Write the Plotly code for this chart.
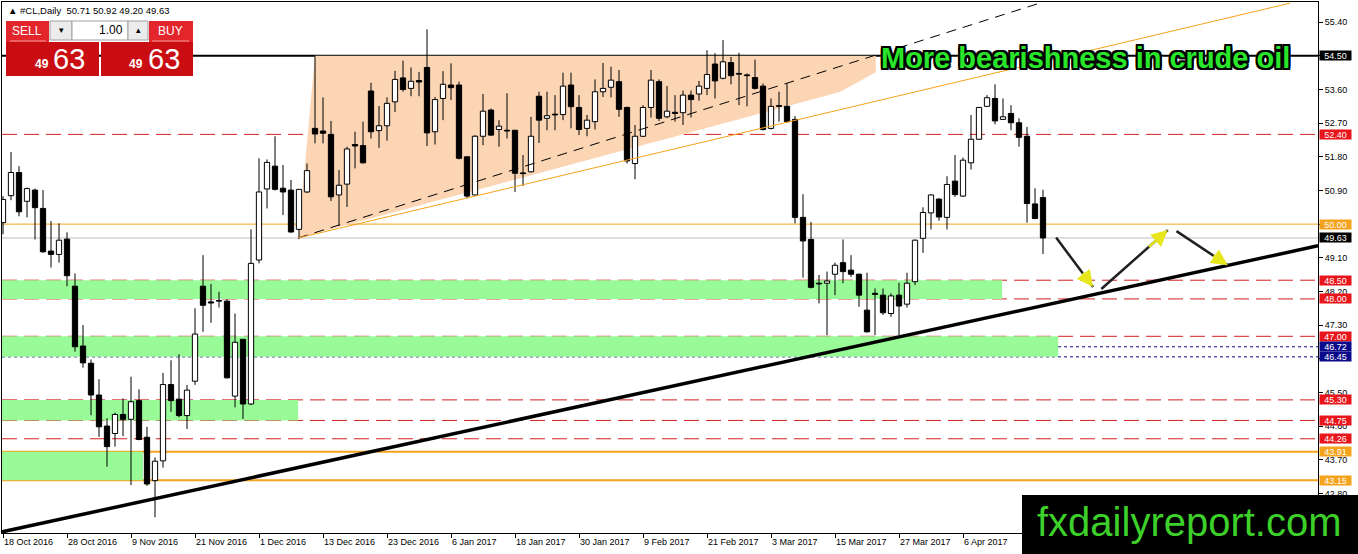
import plotly.graph_objects as go

# Chart size and plot-area margins (px)
W, H = 1358, 554
L_M, R_M, T_M, B_M = 2, 40, 2, 21
PW, PH = W - L_M - R_M, H - T_M - B_M

# ---- values (#CL daily, 18 Oct 2016 - 13 Apr 2017) ----
DATE_LABELS = [
    "18 Oct 2016", "28 Oct 2016", "9 Nov 2016", "21 Nov 2016", "1 Dec 2016",
    "13 Dec 2016", "23 Dec 2016", "6 Jan 2017", "18 Jan 2017", "30 Jan 2017",
    "9 Feb 2017", "21 Feb 2017", "3 Mar 2017", "15 Mar 2017", "27 Mar 2017",
    "6 Apr 2017",
]
BARS_PER_LABEL = 8

OPEN = [
    50.04, 50.76, 51.38, 50.61, 50.91, 50.42, 49.28, 49.19, 49.60, 48.34,
    46.74, 46.28, 45.43, 44.60, 44.40, 44.91, 44.78, 45.28, 44.30, 43.14,
    43.67, 45.71, 45.32, 44.88, 45.80, 48.34, 47.92, 47.96, 47.94, 45.40,
    46.92, 45.19, 49.04, 50.94, 51.55, 50.96, 50.91, 49.86, 50.86, 52.56,
    52.49, 52.40, 50.78, 51.07, 52.13, 52.10, 53.56, 52.50, 52.63, 53.27,
    53.91, 53.63, 53.84, 54.19, 52.47, 53.36, 53.72, 53.72, 51.80, 50.78,
    52.35, 53.05, 52.53, 52.51, 52.51, 51.37, 51.40, 53.42, 52.83, 52.94,
    52.93, 53.72, 53.12, 52.56, 52.74, 53.54, 53.66, 53.81, 53.12, 51.62,
    52.35, 53.12, 53.81, 52.87, 52.99, 52.98, 53.45, 53.48, 53.63, 54.28,
    53.90, 54.32, 54.03, 53.99, 53.92, 53.69, 52.56, 53.17, 53.15, 52.80,
    50.18, 49.59, 48.42, 48.42, 48.66, 48.97, 48.77, 48.66, 47.70, 48.15,
    48.10, 47.61, 48.10, 47.86, 48.46, 49.62, 50.30, 50.67, 50.18, 51.15,
    50.75, 51.64, 52.27, 53.15, 53.36, 52.80, 52.96, 52.71, 52.35, 50.54,
    50.71,
]
HIGH = [
    50.75, 51.93, 51.55, 50.98, 50.95, 50.91, 50.08, 50.02, 49.78, 48.68,
    47.30, 46.38, 45.85, 44.81, 44.96, 45.34, 45.92, 45.58, 44.58, 43.76,
    46.02, 46.36, 46.52, 45.70, 47.75, 49.17, 48.40, 48.19, 47.99, 47.61,
    46.92, 49.86, 51.76, 51.73, 52.35, 51.58, 51.18, 50.94, 51.62, 54.49,
    53.39, 52.76, 51.45, 52.07, 52.47, 52.74, 53.78, 53.16, 53.39, 54.10,
    54.37, 54.19, 54.07, 55.21, 53.40, 54.09, 54.30, 53.81, 51.82, 52.38,
    53.48, 53.09, 52.78, 53.50, 52.52, 51.85, 52.87, 53.54, 53.54, 53.45,
    54.05, 54.05, 53.45, 52.92, 53.87, 54.31, 54.21, 54.12, 53.14, 52.65,
    53.18, 54.12, 53.87, 53.69, 53.45, 53.57, 53.57, 53.83, 54.65, 54.57,
    54.92, 54.47, 54.58, 54.03, 54.40, 53.76, 53.36, 53.54, 53.76, 52.89,
    50.80, 50.06, 48.64, 48.73, 48.97, 49.59, 49.17, 48.68, 48.70, 48.28,
    48.28, 48.15, 48.43, 48.70, 49.59, 50.45, 50.80, 50.69, 51.28, 51.85,
    51.78, 52.92, 53.13, 53.45, 53.74, 53.36, 53.18, 52.83, 52.60, 50.96,
    50.92,
]
LOW = [
    49.73, 50.64, 50.21, 50.18, 49.59, 49.23, 48.84, 48.97, 48.34, 46.59,
    46.16, 44.89, 44.31, 43.51, 44.05, 44.33, 43.02, 44.22, 43.00, 42.16,
    43.49, 44.98, 44.83, 44.52, 45.70, 47.12, 47.36, 47.77, 45.87, 45.10,
    44.79, 45.16, 48.95, 50.42, 50.90, 50.24, 49.77, 49.60, 50.83, 52.16,
    52.16, 50.62, 49.96, 50.46, 51.49, 51.62, 52.29, 52.04, 52.23, 53.00,
    53.54, 53.42, 53.42, 52.09, 52.13, 52.78, 53.32, 51.73, 50.69, 50.76,
    52.11, 52.36, 52.07, 52.29, 50.86, 51.02, 51.38, 52.17, 52.51, 52.51,
    52.78, 52.56, 52.38, 52.35, 52.53, 53.40, 53.39, 52.87, 51.62, 51.20,
    52.33, 52.85, 52.76, 52.83, 52.74, 52.65, 52.85, 53.30, 53.45, 53.36,
    53.87, 53.74, 53.18, 53.15, 53.60, 52.50, 52.53, 52.74, 52.72, 50.02,
    48.57, 48.28, 47.88, 47.03, 48.10, 48.42, 48.59, 47.79, 47.10, 47.03,
    47.57, 47.52, 47.03, 47.77, 48.37, 49.23, 49.86, 50.09, 49.86, 50.73,
    50.73, 51.46, 52.25, 53.14, 52.67, 52.79, 52.51, 52.07, 50.04, 50.13,
    49.20,
]
CLOSE = [
    50.66, 51.38, 50.33, 50.95, 50.44, 49.26, 49.19, 49.57, 48.62, 46.72,
    46.29, 45.43, 44.58, 44.05, 44.91, 44.78, 45.25, 44.24, 43.05, 43.66,
    45.71, 45.28, 44.88, 45.56, 47.06, 47.83, 47.89, 47.94, 45.89, 46.84,
    45.19, 48.95, 50.86, 51.65, 50.93, 50.86, 49.79, 50.93, 51.43, 52.41,
    52.43, 50.73, 51.04, 52.01, 52.09, 51.64, 52.47, 52.63, 53.23, 53.87,
    53.60, 53.82, 53.80, 52.44, 53.33, 53.74, 53.65, 51.76, 50.75, 52.35,
    53.02, 52.38, 52.62, 52.49, 51.36, 51.35, 52.35, 52.78, 52.90, 52.92,
    53.69, 53.14, 52.53, 52.78, 53.54, 53.63, 53.85, 53.07, 51.69, 52.35,
    53.12, 53.85, 52.83, 53.02, 52.96, 53.45, 53.33, 53.69, 54.00, 53.83,
    54.34, 53.97, 54.01, 53.97, 53.63, 52.53, 53.15, 53.15, 52.74, 50.18,
    49.55, 48.31, 48.40, 48.48, 48.90, 48.73, 48.66, 48.10, 47.12, 48.12,
    47.63, 48.08, 47.81, 48.42, 49.57, 50.31, 50.78, 50.19, 51.06, 50.79,
    51.71, 52.27, 53.12, 53.38, 52.76, 52.87, 52.71, 52.32, 50.55, 50.15,
    49.63,
]

PRICE_TICKS = [55.40, 54.50, 53.60, 52.70, 51.80, 50.90, 50.00, 49.10,
               48.20, 47.30, 46.40, 45.50, 44.60, 43.70, 42.80]

RESISTANCE = 54.50
ROUND_LEVEL = 50.00
BID = 49.63
RED_LEVELS = [52.40, 48.50, 48.00, 47.00, 45.30, 44.75, 44.26]
NAVY_LEVELS = [46.72, 46.45]
ORANGE_LEVELS = [43.91, 43.15]

# demand zones: low / high price and the bar index where each one stops
ZONE_LOW = [48.00, 46.45, 44.75, 43.15]
ZONE_HIGH = [48.50, 47.00, 45.30, 43.91]
ZONE_END = [124.9, 131.9, 36.9, 17.5]

# rising wedge (bar index, price)
WEDGE_X = [36.9, 39.0, 109.1, 109.1, 104.6]
WEDGE_Y = [49.63, 54.50, 54.50, 54.06, 53.53]
MIDLINE_X = [36.9, 129.6]
MIDLINE_Y = [49.63, 55.91]
CHANNEL_X = [36.9, 160.9]
CHANNEL_Y = [49.63, 55.91]
SUPPORT_X = [-0.125, 164.375]
SUPPORT_Y = [41.77, 49.42]

# projected path arrows
ARROW_FROM_X = [131.5, 137.1, 146.5]
ARROW_FROM_Y = [49.68, 48.23, 49.84]
ARROW_TO_X = [136.25, 145.6, 153.1]
ARROW_TO_Y = [48.32, 49.84, 48.90]

X_RANGE = [-0.125, 164.375]
Y_RANGE = [41.74, 55.94]

RED = "#e8151b"
ORANGE = "#f5a21c"
NAVY = "#0a0a8a"
GREEN_ZONE = "#98fb98"
PEACH = "#fcd5b4"
FONT = "Liberation Sans, Arial, sans-serif"
BODY_WIDTH = 0.66
MIN_BODY = 0.02


def tx(px):
    """screen x (px) -> paper x"""
    return (px - L_M) / PW


def ty(py):
    """screen y (px) -> paper y"""
    return (H - B_M - py) / PH


def hline(price, color, width=1, dash="solid", layer="below"):
    return dict(type="line", xref="paper", yref="y", x0=0, x1=1, y0=price, y1=price,
                line=dict(color=color, width=width, dash=dash), layer=layer)


def box(x0, y0, x1, y1, fill, line_color=None):
    return dict(type="rect", xref="paper", yref="paper",
                x0=tx(x0), x1=tx(x1), y0=ty(y1), y1=ty(y0),
                fillcolor=fill, layer="above",
                line=dict(width=1 if line_color else 0, color=line_color or fill))


def label(px, py, text, size, color="white", anchor="center", bold=False):
    return dict(xref="paper", yref="paper", x=tx(px), y=ty(py), text=text,
                showarrow=False, xanchor=anchor, yanchor="middle",
                font=dict(family="Arial, Liberation Sans", size=size, color=color,
                          weight="bold" if bold else "normal"))


fig = go.Figure()

# candles: wicks first, then bodies as bars so white bodies hide the wick
wick_x, wick_y = [], []
for i, (o, h, l, c) in enumerate(zip(OPEN, HIGH, LOW, CLOSE)):
    top, bot = max(o, c), min(o, c)
    wick_x += [i, i, None, i, i, None]
    wick_y += [top, h, None, l, bot, None]
fig.add_trace(go.Scatter(
    x=wick_x, y=wick_y, mode="lines", line=dict(color="black", width=1),
    hoverinfo="skip", showlegend=False,
))

for rising, fill in [(True, "white"), (False, "black")]:
    sel = [i for i in range(len(OPEN)) if (CLOSE[i] >= OPEN[i]) == rising]
    fig.add_trace(go.Bar(
        x=sel,
        base=[min(OPEN[i], CLOSE[i]) for i in sel],
        y=[max(abs(CLOSE[i] - OPEN[i]), MIN_BODY) for i in sel],
        width=BODY_WIDTH,
        marker=dict(color=fill, line=dict(color="black", width=1)),
        showlegend=False,
        customdata=[[OPEN[i], HIGH[i], LOW[i], CLOSE[i]] for i in sel],
        hovertemplate="O %{customdata[0]:.2f}<br>H %{customdata[1]:.2f}<br>"
                      "L %{customdata[2]:.2f}<br>C %{customdata[3]:.2f}<extra></extra>",
    ))

fig.add_trace(go.Scatter(
    x=MIDLINE_X, y=MIDLINE_Y, mode="lines",
    line=dict(color="black", width=1, dash="10px,7px"),
    hoverinfo="skip", showlegend=False,
))
fig.add_trace(go.Scatter(
    x=CHANNEL_X, y=CHANNEL_Y, mode="lines",
    line=dict(color=ORANGE, width=1),
    hoverinfo="skip", showlegend=False,
))
fig.add_trace(go.Scatter(
    x=SUPPORT_X, y=SUPPORT_Y, mode="lines",
    line=dict(color="black", width=3.5),
    hoverinfo="skip", showlegend=False,
))

shapes = []
# wedge shading, drawn below the candles
wedge_path = "M " + " L ".join(f"{x},{y}" for x, y in zip(WEDGE_X, WEDGE_Y)) + " Z"
shapes.append(dict(type="path", xref="x", yref="y", path=wedge_path,
                   fillcolor=PEACH, line=dict(width=0), layer="below"))

for lo, hi, end in zip(ZONE_LOW, ZONE_HIGH, ZONE_END):
    shapes.append(dict(type="rect", xref="x", yref="y", x0=X_RANGE[0], x1=end,
                       y0=lo, y1=hi, fillcolor=GREEN_ZONE, line=dict(width=0),
                       layer="below"))

shapes.append(hline(BID, "#c0c0c0"))
shapes.append(hline(ROUND_LEVEL, ORANGE))
for p in RED_LEVELS:
    shapes.append(hline(p, "#d42020", dash="15px,7px"))
for p in NAVY_LEVELS:
    shapes.append(hline(p, NAVY, dash="3px,3px"))
for p in ORANGE_LEVELS:
    shapes.append(hline(p, ORANGE, width=2))
shapes.append(hline(RESISTANCE, "black", width=2))

# one-click trading panel
shapes += [
    box(6, 21, 49, 42, "#e2262c"),
    box(50, 21, 72, 40, "#ececec", "#a0a0a0"),
    box(72, 21, 128, 40, "white", "#a0a0a0"),
    box(128, 21, 148, 40, "#ececec", "#a0a0a0"),
    box(149, 21, 193, 42, "#e2262c"),
    box(6, 42, 99, 76, "#c90d12"),
    box(101, 42, 193, 76, "#c90d12"),
    dict(type="line", xref="paper", yref="paper", x0=tx(10), x1=tx(46),
         y0=ty(41), y1=ty(41), line=dict(color="#f49a9a", width=1), layer="above"),
    dict(type="line", xref="paper", yref="paper", x0=tx(152), x1=tx(189),
         y0=ty(41), y1=ty(41), line=dict(color="#f49a9a", width=1), layer="above"),
    # logo block
    box(1022, 495, 1360, 556, "black"),
]

annotations = []

# price flags on the right scale
flags = [(RESISTANCE, "black"), (ROUND_LEVEL, ORANGE), (BID, "black")]
flags += [(p, RED) for p in RED_LEVELS]
flags += [(p, NAVY) for p in NAVY_LEVELS]
flags += [(p, ORANGE) for p in ORANGE_LEVELS]
for p, bg in flags:
    annotations.append(dict(
        xref="paper", yref="y", x=1, y=p, xanchor="left", yanchor="middle",
        xshift=1, text=f"{p:.2f}", showarrow=False, bgcolor=bg, borderpad=0,
        width=31, height=9, align="center",
        font=dict(family=FONT, size=9, color="white"),
    ))

# projected path
for fx, fy, ex, ey in zip(ARROW_FROM_X, ARROW_FROM_Y, ARROW_TO_X, ARROW_TO_Y):
    annotations.append(dict(
        x=ex, y=ey, ax=fx, ay=fy, xref="x", yref="y", axref="x", ayref="y",
        text="", showarrow=True, arrowhead=0, arrowwidth=2.5, arrowcolor="#202020",
    ))
    hx = ex + (fx - ex) * 0.3
    hy = ey + (fy - ey) * 0.3
    annotations.append(dict(
        x=ex, y=ey, ax=hx, ay=hy, xref="x", yref="y", axref="x", ayref="y",
        text="", showarrow=True, arrowhead=2, arrowsize=1.3, arrowwidth=2.5,
        arrowcolor="#e6e61a",
    ))

annotations += [
    dict(xref="paper", yref="paper", x=tx(6), y=ty(11), xanchor="left", yanchor="middle",
         text="\u25b2 #CL,Daily  50.71 50.92 49.20 49.63", showarrow=False,
         font=dict(family=FONT, size=9.5, color="black")),
    label(27, 31, "SELL", 12),
    label(170, 31, "BUY", 12),
    label(61, 30, "\u25be", 9, color="black"),
    label(138, 30, "\u25b4", 9, color="black"),
    label(125, 30, "1.00", 12, color="black", anchor="right"),
    label(42, 64, "49", 12, bold=True),
    label(69, 59, "63", 29),
    label(136, 64, "49", 12, bold=True),
    label(164, 59, "63", 29),
    dict(xref="paper", yref="paper", x=tx(1085), y=ty(58), xanchor="center",
         yanchor="middle", text="More bearishness in crude oil", showarrow=False,
         font=dict(family="Arial, Liberation Sans", size=29, color="#2ae62a",
                   weight="bold",
                   shadow="2px 2px 0 #000, -2px -2px 0 #000, 2px -2px 0 #000, "
                          "-2px 2px 0 #000, 0 2px 0 #000, 0 -2px 0 #000, "
                          "2px 0 0 #000, -2px 0 0 #000")),
    dict(xref="paper", yref="paper", x=tx(1189), y=ty(522), xanchor="center",
         yanchor="middle", text="fxdailyreport.com", showarrow=False,
         font=dict(family="Arial, Liberation Sans", size=40, color="#3dd02a")),
]

# tick labels fully covered by price flags in the original are left blank
covered = {RESISTANCE, ROUND_LEVEL, 46.40}
y_ticktext = ["" if p in covered else f"{p:.2f}" for p in PRICE_TICKS]

fig.update_layout(
    width=W, height=H,
    margin=dict(l=L_M, r=R_M, t=T_M, b=B_M),
    paper_bgcolor="white", plot_bgcolor="white",
    showlegend=False, barmode="overlay",
    shapes=shapes,
    annotations=annotations,
    hovermode="closest",
    font=dict(family=FONT, size=9, color="black"),
)

fig.update_xaxes(
    range=X_RANGE, showgrid=False, zeroline=False,
    tickmode="array",
    tickvals=[i * BARS_PER_LABEL for i in range(len(DATE_LABELS))],
    ticktext=DATE_LABELS, ticks="outside", ticklen=4, tickcolor="black",
    ticklabelposition="outside right",
    showline=True, linecolor="black", linewidth=1, mirror=True,
    tickfont=dict(family=FONT, size=9, color="black"),
)
fig.update_yaxes(
    range=Y_RANGE, side="right", showgrid=False, zeroline=False,
    tickmode="array", tickvals=PRICE_TICKS, ticktext=y_ticktext,
    ticks="outside", ticklen=4, tickcolor="black",
    showline=True, linecolor="black", linewidth=1, mirror=True,
    tickfont=dict(family=FONT, size=9, color="black"),
)

fig.write_html("out.html", config={"displayModeBar": False},
               post_script="document.body.style.margin='0px';")
